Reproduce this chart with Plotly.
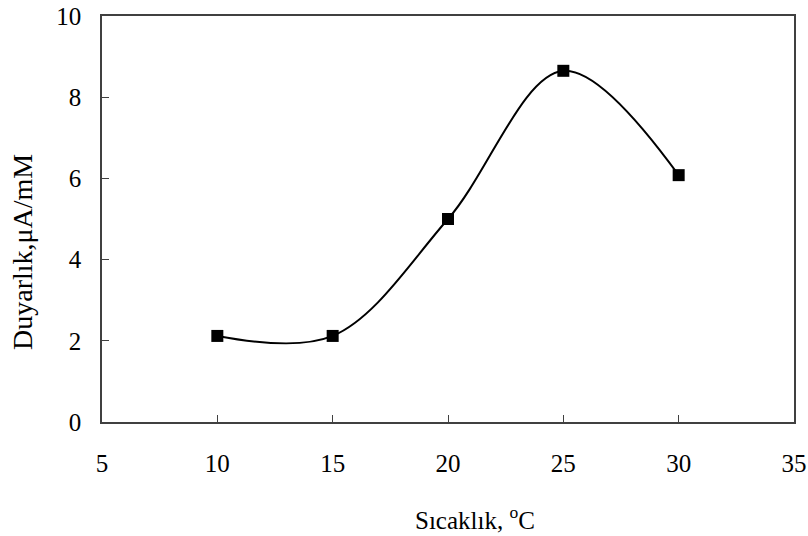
import plotly.graph_objects as go

temps = [10, 15, 20, 25, 30]
sens = [2.12, 2.12, 5.0, 8.65, 6.08]
x_ticks = [5, 10, 15, 20, 25, 30, 35]
y_ticks = [0, 2, 4, 6, 8, 10]

FONT = "Liberation Serif, Times New Roman, serif"

fig = go.Figure()
fig.add_trace(go.Scatter(
    x=temps, y=sens, mode="lines+markers",
    line=dict(color="black", width=2, shape="spline", smoothing=1.0),
    marker=dict(symbol="square", size=12, color="black"),
    showlegend=False, cliponaxis=False,
))

axis_common = dict(
    showgrid=False, zeroline=False, showline=True, linecolor="#404040", linewidth=1.5,
    mirror=True, ticks="inside", ticklen=7, tickcolor="#404040", tickwidth=1,
    tickfont=dict(family=FONT, size=25, color="black"), automargin=False,
)

fig.update_xaxes(range=[5, 35], tickvals=x_ticks, ticklabelstandoff=18, **axis_common)
fig.update_yaxes(range=[0, 10], tickvals=y_ticks, ticklabelstandoff=14, **axis_common)

fig.add_annotation(text="Sıcaklık, <sup>o</sup>C", xref="paper", yref="paper",
                   x=0.539, y=-0.236, showarrow=False, yanchor="middle", xanchor="center",
                   font=dict(family=FONT, size=25, color="black"))
fig.add_annotation(text="Duyarlık,μA/mM", xref="paper", yref="paper",
                   x=-0.114, y=0.419, textangle=-90, showarrow=False,
                   xanchor="center", yanchor="middle",
                   font=dict(family=FONT, size=28, color="black"))

fig.update_layout(
    width=808, height=536,
    margin=dict(l=102, r=14, t=16, b=114, autoexpand=False),
    plot_bgcolor="white", paper_bgcolor="white",
)

fig.write_html("out.html")
